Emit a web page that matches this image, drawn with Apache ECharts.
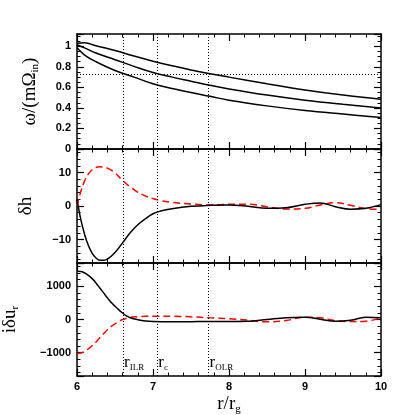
<!DOCTYPE html>
<html lang="en">
<head>
<meta charset="UTF-8">
<title>omega, dh, du_r</title>
<script src="https://cdn.jsdelivr.net/npm/echarts@6/dist/echarts.min.js"></script>
<style>html,body{margin:0;padding:0;background:#fff;}</style>
</head>
<body>
<div id="main" style="width:415px;height:415px;"></div>
<script>
// top panel: pattern speed curves
var rOmega = [6, 6.1, 6.25, 6.5, 6.75, 7, 7.25, 7.5, 7.75, 8, 8.5, 9, 9.5, 10];
var omegaUpper = [1.03, 1.035, 1.005, 0.96, 0.905, 0.855, 0.81, 0.77, 0.733, 0.70, 0.635, 0.575, 0.525, 0.485];
var omegaMid   = [1.015, 0.985, 0.935, 0.87, 0.805, 0.745, 0.70, 0.66, 0.62, 0.585, 0.525, 0.475, 0.435, 0.40];
var omegaLower = [0.985, 0.915, 0.85, 0.765, 0.70, 0.635, 0.59, 0.55, 0.513, 0.475, 0.42, 0.375, 0.34, 0.307];
var omegaRef = 0.735;

// middle panel: delta h
var rH = [6, 6.05, 6.1, 6.15, 6.2, 6.25, 6.3, 6.35, 6.4, 6.45, 6.5, 6.6, 6.7, 6.8, 6.9, 7.0, 7.1, 7.25, 7.5, 7.75, 8.0, 8.25, 8.5, 8.75, 9.0, 9.2, 9.4, 9.6, 9.8, 10];
var hReal = [2.0, -4.0, -8.5, -11.8, -14.1, -15.5, -16.2, -16.2, -15.8, -15.0, -13.9, -11.0, -8.0, -5.6, -3.8, -2.3, -1.5, -0.8, -0.1, 0.2, 0.3, -0.1, -0.7, -0.5, 0.5, 0.9, -0.2, -0.95, -0.7, 0.4];
var hImag = [0, 4.3, 7.5, 9.6, 10.8, 11.5, 11.7, 11.6, 11.3, 10.7, 9.9, 7.6, 5.7, 4.1, 3.0, 2.2, 1.6, 1.1, 0.6, 0.3, 0.5, 0.5, -0.2, -0.9, -0.7, 0.3, 1.0, 0.2, -0.8, -1.0];

// bottom panel: i delta u_r
var rU = [6, 6.05, 6.1, 6.15, 6.2, 6.25, 6.3, 6.35, 6.4, 6.45, 6.5, 6.55, 6.6, 6.65, 6.7, 6.8, 6.9, 7.0, 7.25, 7.5, 7.75, 8.0, 8.25, 8.5, 8.75, 9.0, 9.2, 9.4, 9.6, 9.8, 10];
var uReal = [1450, 1445, 1400, 1330, 1230, 1100, 950, 800, 650, 510, 400, 290, 195, 110, 55, -5, -45, -62, -70, -65, -60, -60, -55, 0, 55, 70, 10, -55, -25, 70, 50];
var uImag = [-1020, -1010, -960, -880, -790, -680, -550, -430, -310, -210, -130, -60, 0, 35, 65, 85, 95, 100, 100, 80, 50, 20, -20, -70, -30, 70, 50, -30, -60, -50, 50];

// resonance radii
var resR = [6.605, 7.057, 7.73];
var resNames = ['ILR', 'c', 'OLR'];
var resLabelY = -1300;

var xTicks = [6, 7, 8, 9, 10];

function pairs(xs, ys) {
    return xs.map(function (x, i) { return [x, ys[i]]; });
}
function minus(v) {
    return v < 0 ? '\u2212' + Math.abs(v) : '' + v;
}

var grids = [
    {left: 77, top: 34, width: 304, height: 115, outerBoundsMode: 'none', containLabel: false},
    {left: 77, top: 149, width: 304, height: 114, outerBoundsMode: 'none', containLabel: false},
    {left: 77, top: 263, width: 304, height: 113, outerBoundsMode: 'none', containLabel: false}
];

var serif = 'Liberation Serif';
var subRich = {
    a: {fontFamily: serif, fontSize: 19, color: '#000', lineHeight: 22},
    s: {fontFamily: serif, fontSize: 11, color: '#000', lineHeight: 11, padding: [11, 0, 0, 0]}
};

function xAxis(i, pos, labels) {
    var ax = {
        type: 'value', gridIndex: i, position: pos, min: 6, max: 10, interval: 1,
        axisLine: {onZero: false, lineStyle: {color: '#000', width: 1.5}},
        axisTick: {inside: true, length: 7, lineStyle: {color: '#000', width: 1.2}},
        minorTick: {show: true, splitNumber: 5, length: 3.5, lineStyle: {color: '#000', width: 1}},
        splitLine: {show: false},
        axisLabel: {show: labels, color: '#000', fontFamily: 'Liberation Sans', fontWeight: 'bold', fontSize: 11, margin: 5,
            customValues: xTicks}
    };
    if (labels) {
        ax.name = '{a|r/r}{s|g}';
        ax.nameLocation = 'middle';
        ax.nameGap = 17;
        ax.nameTextStyle = {rich: subRich};
    }
    return ax;
}

function yAxis(i, pos, lo, hi, minorSplit, name, gap, labels) {
    var ax = {
        type: 'value', gridIndex: i, position: pos, min: lo, max: hi, splitNumber: 3,
        axisLine: {onZero: false, lineStyle: {color: '#000', width: 1.5}},
        axisTick: {inside: true, length: 7, lineStyle: {color: '#000', width: 1.2}},
        minorTick: {show: true, splitNumber: minorSplit, length: 3.5, lineStyle: {color: '#000', width: 1}},
        splitLine: {show: false},
        axisLabel: {show: labels, showMinLabel: i === 0, showMaxLabel: false, color: '#000',
            fontFamily: 'Liberation Sans', fontWeight: 'bold', fontSize: 11, margin: 6, formatter: minus}
    };
    if (name) {
        ax.name = name;
        ax.nameLocation = 'middle';
        ax.nameGap = gap;
        ax.nameRotate = 90;
        ax.nameTextStyle = {rich: subRich};
    }
    return ax;
}

var yTop = yAxis(0, 'left', 0, 1.12, 4, '{a|\u03c9/(m\u03a9}{s|in}{a|)}', 36, true);
yTop.interval = 0.2;
yTop.splitNumber = 5;
var yTopR = yAxis(0, 'right', 0, 1.12, 4, null, 0, false);
yTopR.interval = 0.2;

var option = {
    animation: false,
    backgroundColor: '#fff',
    grid: grids,
    xAxis: [
        xAxis(0, 'bottom', false), xAxis(0, 'top', false),
        xAxis(1, 'bottom', false), xAxis(1, 'top', false),
        xAxis(2, 'bottom', true), xAxis(2, 'top', false)
    ],
    yAxis: [
        yTop, yTopR,
        yAxis(1, 'left', -17, 17, 5, '{a|\u03b4h}', 40, true), yAxis(1, 'right', -17, 17, 5, null, 0, false),
        yAxis(2, 'left', -1700, 1700, 5, '{a|i\u03b4u}{s|r}', 56, true), yAxis(2, 'right', -1700, 1700, 5, null, 0, false)
    ],
    series: []
};

var dotted = {type: [1, 2], color: '#000', width: 1};
function vLines(extra) {
    var d = resR.map(function (r) { return {xAxis: r}; });
    return {symbol: 'none', silent: true, label: {show: false}, lineStyle: dotted, data: d.concat(extra || [])};
}

function line(xi, yi, xs, ys, color, dashed, extra) {
    var s = {
        type: 'line', xAxisIndex: xi, yAxisIndex: yi, data: pairs(xs, ys),
        smooth: 0.4, showSymbol: false, symbol: 'none', clip: true,
        lineStyle: {color: color, width: 1.5, type: dashed ? [7, 4] : 'solid'}
    };
    for (var k in (extra || {})) s[k] = extra[k];
    return s;
}

option.series.push(line(0, 0, rOmega, omegaUpper, '#000', false, {markLine: vLines([{yAxis: omegaRef}])}));
option.series.push(line(0, 0, rOmega, omegaMid, '#000', false));
option.series.push(line(0, 0, rOmega, omegaLower, '#000', false));

option.series.push(line(2, 2, rH, hImag, '#ff0000', true));
option.series.push(line(2, 2, rH, hReal, '#000', false, {markLine: vLines()}));

option.series.push(line(4, 4, rU, uImag, '#ff0000', true));
option.series.push(line(4, 4, rU, uReal, '#000', false, {
    markLine: vLines(),
    markPoint: {
        symbol: 'circle', symbolSize: 0, silent: true,
        label: {
            show: true, position: 'right', distance: 1,
            formatter: function (p) { return '{a|r}{s|' + p.name + '}'; },
            rich: {
                a: {fontFamily: serif, fontSize: 17, color: '#000', lineHeight: 18},
                s: {fontFamily: serif, fontSize: 9, color: '#000', lineHeight: 9, padding: [9, 0, 0, 0]}
            }
        },
        data: resR.map(function (r, k) { return {coord: [r, resLabelY], name: resNames[k]}; })
    }
}));

var chart = echarts.init(document.getElementById('main'));
chart.setOption(option);
</script>
</body>
</html>
